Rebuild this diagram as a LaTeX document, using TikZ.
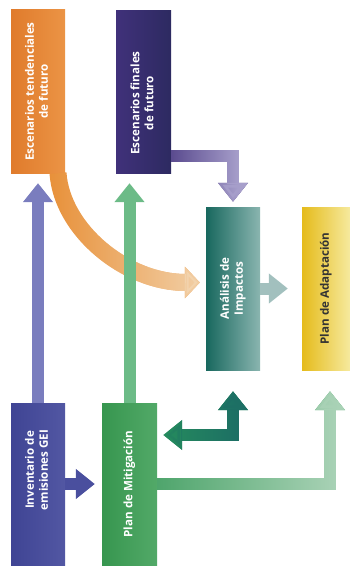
\documentclass[tikz,border=0pt]{standalone}
\usepackage{fontspec}
\setmainfont{Open Sans}
\usepackage{graphicx}
\usetikzlibrary{arrows.meta, calc, fadings}

\tikzfading[name=fade right, left color=transparent!100, right color=transparent!0]

% rotated text inside a box, #1 moves it up (or down if negative)
\newcommand{\boxtext}[2][0pt]{\rotatebox{90}{\hspace{#1}\begin{tabular}{@{}c@{}}#2\end{tabular}}}

\begin{document}
\begin{tikzpicture}
		[x=1pt,y=-1pt,
		%Styles
		box/.style={rectangle,inner sep=0pt,minimum width=54pt,minimum height=163pt,
			text=white,font=\bfseries\fontsize{11.6}{14}\selectfont},
		block/.style={line width=12pt,-{Triangle[length=19pt,width=29pt]}},
		twoway/.style={line width=12pt,{Triangle[length=19pt,width=29pt]}-{Triangle[length=19pt,width=29pt]}},
		curveline/.style={line width=17pt,-{Triangle[length=15pt,width=31pt]}}
		]
		
		%Colors
		\definecolor{tendL}{HTML}{E07B2B}	\definecolor{tendR}{HTML}{EB9446}
		\definecolor{finL}{HTML}{40317A}	\definecolor{finR}{HTML}{2D2A61}
		\definecolor{anaL}{HTML}{18685E}	\definecolor{anaR}{HTML}{8AB5B0}
		\definecolor{adapL}{HTML}{E5BB1B}	\definecolor{adapR}{HTML}{F6EA9E}
		\definecolor{invL}{HTML}{3F4494}	\definecolor{invR}{HTML}{5257A3}
		\definecolor{mitL}{HTML}{37964F}	\definecolor{mitR}{HTML}{52A968}
		\definecolor{textdark}{HTML}{333333}
		\definecolor{orangeA}{HTML}{E8913A}	\definecolor{orangeB}{HTML}{F3D5B0}
		\definecolor{purpleA}{HTML}{54448A}	\definecolor{purpleB}{HTML}{A79FCB}
		\definecolor{greenA}{HTML}{4CA46A}	\definecolor{greenB}{HTML}{A9D2B6}
		\definecolor{darkA}{HTML}{27905C}	\definecolor{darkB}{HTML}{1D6F65}
		\definecolor{invup}{HTML}{7A7DBE}
		\definecolor{mitup}{HTML}{6CBB87}
		\definecolor{anaadap}{HTML}{A2C0BE}
		\definecolor{invmit}{HTML}{4A4F9E}
		
		\useasboundingbox (0,0) rectangle (350,567);
		
		%The boxes
		\node[box,left color=tendL,right color=tendR] (tend) at (38,91.5)
			{\boxtext{Escenarios tendenciales\\de futuro}};
		\node[box,minimum width=55pt,minimum height=162pt,left color=finL,right color=finR] (fin) at (143.5,92)
			{\boxtext[-22pt]{Escenarios finales\\de futuro}};
		\node[box,left color=anaL,right color=anaR] (ana) at (233,288.5)
			{\boxtext{Análisis de\\Impactos}};
		\node[box,minimum width=48pt,left color=adapL,right color=adapR,text=textdark] (adap) at (326,288.5)
			{\boxtext{Plan de Adaptación}};
		\node[box,minimum height=162pt,left color=invL,right color=invR] (inv) at (38,484)
			{\boxtext[28pt]{Inventario de\\emisiones GEI}};
		\node[box,minimum width=55pt,minimum height=162pt,left color=mitL,right color=mitR] (mit) at (129.5,484)
			{\boxtext{Plan de Mitigación}};
		
		%The arrows
		\draw[curveline,orangeA,shorten >=6pt] ($(tend.south)+(20,0)$) .. controls +(4,57) and +(-80,0) .. ($(ana.west)+(0,-6)$);
		\draw[curveline,orangeB,shorten >=6pt,path fading=fade right] ($(tend.south)+(20,0)$) .. controls +(4,57) and +(-80,0) .. ($(ana.west)+(0,-6)$);
		
		\draw[block,invup,shorten >=10pt] (inv.north) -- (tend.south);
		\draw[block,mitup,shorten >=10pt] (mit.north) -- (mit.north |- fin.south);
		
		\draw[block,purpleA,shorten >=5pt] ($(fin.south east)+(0,-17)$) -| (ana.north);
		\draw[block,purpleB,shorten >=5pt,path fading=fade right] ($(fin.south east)+(0,-17)$) -| (ana.north);
		
		\draw[block,anaadap,shorten >=14pt] (ana.east) -- (adap.west);
		\draw[block,invmit,shorten >=7pt] (inv.east) -- (mit.west);
		
		\draw[twoway,darkA,shorten <=21pt,shorten >=6pt] (ana.south) |- ($(mit.east)+(0,-49)$);
		\draw[twoway,darkB,shorten <=21pt,shorten >=6pt,path fading=fade right] (ana.south) |- ($(mit.east)+(0,-49)$);
		
		\draw[block,greenA,shorten >=21pt] (mit.east) -| ($(adap.south)+(4,0)$);
		\draw[block,greenB,shorten >=21pt,path fading=fade right] (mit.east) -| ($(adap.south)+(4,0)$);
	\end{tikzpicture}
\end{document}
